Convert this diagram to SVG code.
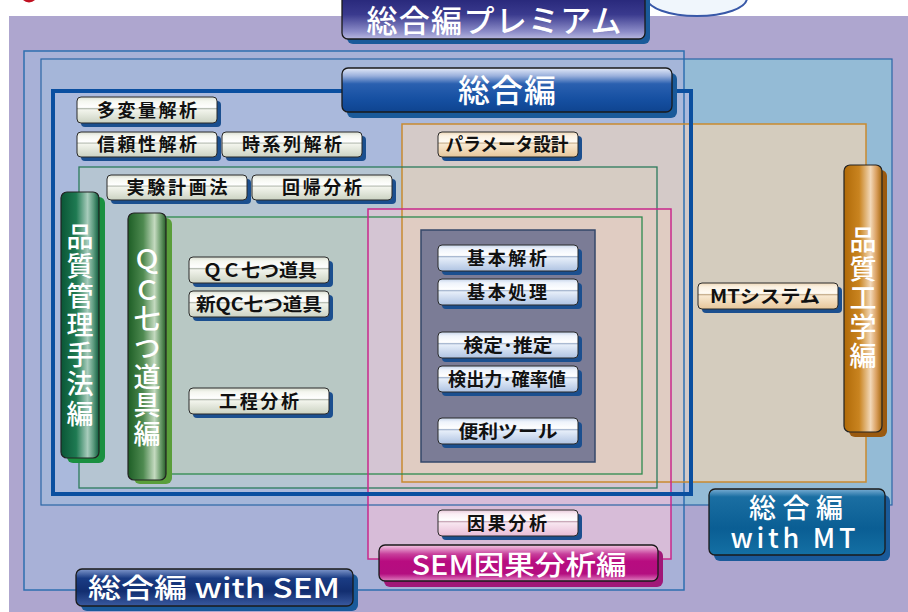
<svg xmlns="http://www.w3.org/2000/svg" width="908" height="612" viewBox="0 0 908 612">
<defs>
<style>
.sh{fill:#1B4F8F}
.btn{stroke:#2A2A2A;stroke-width:1}
.lbl{font-family:"Noto Sans CJK JP","Noto Sans",sans-serif;font-weight:700;font-size:18px;fill:#111;text-anchor:middle}
.ttl{font-family:"Noto Sans CJK JP","Noto Sans",sans-serif;font-weight:500;fill:#fff;text-anchor:middle}
.vt{font-family:"Noto Sans CJK JP","Noto Sans",sans-serif;font-weight:500;font-size:27px;fill:#fff;writing-mode:vertical-rl;text-orientation:upright}
.bar{stroke:#222;stroke-width:1.2}
.ban{stroke:#1a1a1a;stroke-width:1.3}
.bsh{fill:#1A5A9A}
</style>
<linearGradient id="gG" x1="0" y1="0" x2="0" y2="1">
<stop offset="0" stop-color="#D8DDD0"/><stop offset="0.15" stop-color="#F4F6EF"/><stop offset="0.4" stop-color="#FFFFFF"/><stop offset="0.44" stop-color="#B8BEB4"/><stop offset="0.5" stop-color="#F2F4EC"/><stop offset="1" stop-color="#CBD2C2"/>
</linearGradient>
<linearGradient id="gB" x1="0" y1="0" x2="0" y2="1">
<stop offset="0" stop-color="#C6D4EA"/><stop offset="0.15" stop-color="#EEF3FB"/><stop offset="0.4" stop-color="#FFFFFF"/><stop offset="0.44" stop-color="#A8B8D0"/><stop offset="0.5" stop-color="#E6EEF9"/><stop offset="1" stop-color="#AFC3E2"/>
</linearGradient>
<linearGradient id="gY" x1="0" y1="0" x2="0" y2="1">
<stop offset="0" stop-color="#EED8B8"/><stop offset="0.15" stop-color="#FBF1E2"/><stop offset="0.4" stop-color="#FFFBF4"/><stop offset="0.44" stop-color="#C8B090"/><stop offset="0.5" stop-color="#F8E8D0"/><stop offset="1" stop-color="#E6C69A"/>
</linearGradient>
<linearGradient id="gP" x1="0" y1="0" x2="0" y2="1">
<stop offset="0" stop-color="#E8C8DA"/><stop offset="0.15" stop-color="#FAEEF4"/><stop offset="0.4" stop-color="#FFFFFF"/><stop offset="0.44" stop-color="#C8A8B8"/><stop offset="0.5" stop-color="#F8E6F0"/><stop offset="1" stop-color="#E8BCD6"/>
</linearGradient>
<linearGradient id="gPrem" x1="0" y1="0" x2="0" y2="1">
<stop offset="0" stop-color="#1E1E70"/><stop offset="0.5" stop-color="#3A3A8E"/><stop offset="0.85" stop-color="#8C8CC8"/><stop offset="1" stop-color="#B8B8E0"/>
</linearGradient>
<linearGradient id="gSogo" x1="0" y1="0" x2="0" y2="1">
<stop offset="0" stop-color="#E4EAF8"/><stop offset="0.18" stop-color="#9AB0DC"/><stop offset="0.36" stop-color="#2A60B0"/><stop offset="0.7" stop-color="#1650A2"/><stop offset="1" stop-color="#0E4490"/>
</linearGradient>
<linearGradient id="gMT" x1="0" y1="0" x2="0" y2="1">
<stop offset="0" stop-color="#7AAED4"/><stop offset="0.12" stop-color="#1A6EA2"/><stop offset="0.6" stop-color="#0A5E94"/><stop offset="1" stop-color="#1470A4"/>
</linearGradient>
<linearGradient id="gMag" x1="0" y1="0" x2="0" y2="1">
<stop offset="0" stop-color="#F4CCE6"/><stop offset="0.25" stop-color="#C8409C"/><stop offset="0.45" stop-color="#B80C80"/><stop offset="0.8" stop-color="#B40E80"/><stop offset="1" stop-color="#E080C0"/>
</linearGradient>
<linearGradient id="gSem" x1="0" y1="0" x2="0" y2="1">
<stop offset="0" stop-color="#8098CC"/><stop offset="0.25" stop-color="#1A3C84"/><stop offset="0.6" stop-color="#122E70"/><stop offset="1" stop-color="#3A5AA0"/>
</linearGradient>
<linearGradient id="gQM" x1="0" y1="0" x2="1" y2="0">
<stop offset="0" stop-color="#0A5636"/><stop offset="0.4" stop-color="#1E7A52"/><stop offset="0.7" stop-color="#A8CCBC"/><stop offset="0.85" stop-color="#5E9C80"/><stop offset="1" stop-color="#0E5C3C"/>
</linearGradient>
<linearGradient id="gQC" x1="0" y1="0" x2="1" y2="0">
<stop offset="0" stop-color="#1E5E26"/><stop offset="0.4" stop-color="#4E8A50"/><stop offset="0.7" stop-color="#C4DAC0"/><stop offset="0.85" stop-color="#70A070"/><stop offset="1" stop-color="#265E28"/>
</linearGradient>
<linearGradient id="gQE" x1="0" y1="0" x2="1" y2="0">
<stop offset="0" stop-color="#B06A08"/><stop offset="0.4" stop-color="#C98420"/><stop offset="0.7" stop-color="#F2D8B8"/><stop offset="0.85" stop-color="#DAA060"/><stop offset="1" stop-color="#A86A10"/>
</linearGradient>
</defs>

<rect x="0" y="0" width="908" height="612" fill="#FFFFFF"/>
<circle cx="29" cy="-6" r="8.5" fill="#C01020"/>

<g id="regions">
<rect x="9" y="16" width="899" height="596" fill="#AEA6CF"/>
<rect x="24" y="51" width="660" height="539" fill="#A8B1D7"/>
<rect x="41" y="59" width="851" height="446" fill="#94BBD6"/>
<rect x="41" y="59" width="643" height="446" fill="#A5B6D9"/>
<rect x="52" y="89" width="640" height="406" fill="#AAB9DC"/>
<rect x="402" y="124" width="464" height="358" fill="#D4CCBE"/>
<rect x="402" y="124" width="290" height="358" fill="#D4CAC8"/>
<rect x="79" y="167" width="578" height="321" fill="#B5C5D2"/>
<rect x="402" y="167" width="255" height="315" fill="#D6CCC3"/>
<rect x="150" y="217" width="492" height="257" fill="#B8C8C4"/>
<rect x="402" y="217" width="240" height="257" fill="#DECDC1"/>
<rect x="368" y="209" width="303" height="350" fill="#D7BCD8"/>
<rect x="368" y="209" width="303" height="286" fill="#D4C5D3"/>
<rect x="402" y="209" width="269" height="273" fill="#E0CCC2"/>
</g>

<g id="outlines" fill="none">
<rect x="24" y="51" width="660" height="539" stroke="#2E6FB0" stroke-width="1.5"/>
<rect x="41" y="59" width="851" height="446" stroke="#2A66A6" stroke-width="1.2"/>
<rect x="402" y="124" width="464" height="358" stroke="#C88A30" stroke-width="1.5"/>
<rect x="79" y="167" width="578" height="321" stroke="#2B7A5C" stroke-width="1.3"/>
<rect x="150" y="217" width="492" height="257" stroke="#2F8A4E" stroke-width="1.3"/>
<rect x="368" y="209" width="303" height="350" stroke="#C8288C" stroke-width="1.5"/>
<rect x="53" y="91" width="638" height="403" stroke="#0A4FA0" stroke-width="4"/>
</g>

<g id="basic-panel">
<rect x="421" y="230" width="174" height="232" fill="#7B7C96" stroke="#34476A" stroke-width="1.5"/>
</g>

<g id="connectors"></g>

<g id="badge">
<ellipse cx="697" cy="-2" rx="50" ry="18" fill="#F0F6FC" stroke="#3858A8" stroke-width="2"/>
</g>

<g id="premium">
<rect class="bsh" x="347" y="-6" width="303" height="50" rx="6"/>
<rect class="ban" x="342" y="-10" width="303" height="49" rx="6" fill="url(#gPrem)"/>
<text class="ttl" x="494" y="32" font-size="31" textLength="255">総合編プレミアム</text>
</g>

<g id="sogo">
<rect class="bsh" x="347" y="73" width="330" height="45" rx="6"/>
<rect class="ban" x="342" y="68" width="330" height="44" rx="6" fill="url(#gSogo)"/>
<text class="ttl" x="507" y="102" font-size="32" textLength="98">総合編</text>
</g>

<g id="with-mt">
<rect class="bsh" x="714" y="495" width="176" height="66" rx="6"/>
<rect class="ban" x="709" y="489" width="176" height="66" rx="6" fill="url(#gMT)"/>
<text class="ttl" font-size="27"><tspan x="796" y="518" textLength="94">総合編</tspan><tspan x="793" y="548" textLength="125">with MT</tspan></text>
</g>

<g id="sem-causal">
<rect class="bsh" x="384" y="550" width="279" height="37" rx="6" style="fill:#A01878"/>
<rect class="ban" x="379" y="545" width="279" height="36" rx="6" fill="url(#gMag)"/>
<text class="ttl" x="519" y="575" font-size="27" textLength="215" lengthAdjust="spacingAndGlyphs">SEM因果分析編</text>
</g>

<g id="with-sem">
<rect class="bsh" x="81" y="574" width="277" height="37" rx="6"/>
<rect class="ban" x="76" y="569" width="277" height="37" rx="6" fill="url(#gSem)"/>
<text class="ttl" x="214" y="598" font-size="27" textLength="252" lengthAdjust="spacingAndGlyphs">総合編 with SEM</text>
</g>

<g id="bar-qm">
<rect x="67" y="197" width="38" height="266" rx="6" fill="#1A9040"/>
<rect class="bar" x="61" y="192" width="38" height="266" rx="6" fill="url(#gQM)"/>
<text class="vt" x="80" y="223" letter-spacing="2.5">品質管理手法編</text>
</g>

<g id="bar-qc">
<rect x="134" y="218" width="38" height="266" rx="6" fill="#5A9E3A"/>
<rect class="bar" x="128" y="213" width="38" height="267" rx="6" fill="url(#gQC)"/>
<text class="vt" x="147" y="248" letter-spacing="1.7">ＱＣ七つ道具編</text>
</g>

<g id="bar-qe">
<rect x="849" y="170" width="38" height="267" rx="6" fill="#9A5A10"/>
<rect class="bar" x="844" y="165" width="38" height="267" rx="6" fill="url(#gQE)"/>
<text class="vt" x="863" y="226" letter-spacing="2">品質工学編</text>
</g>

<g id="n-tahenryo"><rect class="sh" x="81" y="101" width="140" height="26" rx="4"/><rect class="btn" x="77" y="97" width="140" height="26" rx="4" fill="url(#gG)"/><text class="lbl" x="147" y="117" textLength="100">多変量解析</text></g>
<g id="n-shinrai"><rect class="sh" x="81" y="136" width="140" height="25" rx="4"/><rect class="btn" x="77" y="132" width="140" height="25" rx="4" fill="url(#gG)"/><text class="lbl" x="147" y="151" textLength="100">信頼性解析</text></g>
<g id="n-jikeiretsu"><rect class="sh" x="226" y="136" width="140" height="25" rx="4"/><rect class="btn" x="222" y="132" width="140" height="25" rx="4" fill="url(#gG)"/><text class="lbl" x="292" y="151" textLength="100">時系列解析</text></g>
<g id="n-parameter"><rect class="sh" x="442" y="136" width="140" height="25" rx="4"/><rect class="btn" x="438" y="132" width="140" height="25" rx="4" fill="url(#gY)"/><text class="lbl" x="507" y="151" textLength="123" lengthAdjust="spacingAndGlyphs">パラメータ設計</text></g>
<g id="n-jikken"><rect class="sh" x="111" y="179" width="140" height="25" rx="4"/><rect class="btn" x="107" y="175" width="140" height="25" rx="4" fill="url(#gG)"/><text class="lbl" x="177" y="194" textLength="101">実験計画法</text></g>
<g id="n-kaiki"><rect class="sh" x="256" y="179" width="140" height="25" rx="4"/><rect class="btn" x="252" y="175" width="140" height="25" rx="4" fill="url(#gG)"/><text class="lbl" x="322" y="194" textLength="80">回帰分析</text></g>
<g id="n-qc7"><rect class="sh" x="193" y="261" width="140" height="26" rx="4"/><rect class="btn" x="189" y="257" width="140" height="26" rx="4" fill="url(#gG)"/><text class="lbl" x="260" y="277" textLength="114" lengthAdjust="spacingAndGlyphs">ＱＣ七つ道具</text></g>
<g id="n-newqc7"><rect class="sh" x="193" y="295" width="140" height="26" rx="4"/><rect class="btn" x="189" y="291" width="140" height="26" rx="4" fill="url(#gG)"/><text class="lbl" x="259" y="311" textLength="126" lengthAdjust="spacingAndGlyphs">新QC七つ道具</text></g>
<g id="n-kotei"><rect class="sh" x="193" y="392" width="140" height="26" rx="4"/><rect class="btn" x="189" y="388" width="140" height="26" rx="4" fill="url(#gG)"/><text class="lbl" x="259" y="408" textLength="80">工程分析</text></g>
<g id="n-kihonkaiseki"><rect class="sh" x="442" y="249" width="140" height="26" rx="4"/><rect class="btn" x="438" y="245" width="140" height="26" rx="4" fill="url(#gB)"/><text class="lbl" x="507" y="265" textLength="80">基本解析</text></g>
<g id="n-kihonshori"><rect class="sh" x="442" y="283" width="140" height="26" rx="4"/><rect class="btn" x="438" y="279" width="140" height="26" rx="4" fill="url(#gB)"/><text class="lbl" x="507" y="299" textLength="80">基本処理</text></g>
<g id="n-kentei"><rect class="sh" x="442" y="336" width="140" height="26" rx="4"/><rect class="btn" x="438" y="332" width="140" height="26" rx="4" fill="url(#gB)"/><text class="lbl" x="508" y="352" textLength="89" lengthAdjust="spacingAndGlyphs">検定･推定</text></g>
<g id="n-kenshutsu"><rect class="sh" x="442" y="370" width="140" height="26" rx="4"/><rect class="btn" x="438" y="366" width="140" height="26" rx="4" fill="url(#gB)"/><text class="lbl" x="507" y="386" textLength="118" lengthAdjust="spacingAndGlyphs">検出力･確率値</text></g>
<g id="n-benri"><rect class="sh" x="442" y="422" width="140" height="26" rx="4"/><rect class="btn" x="438" y="418" width="140" height="26" rx="4" fill="url(#gB)"/><text class="lbl" x="508" y="438" textLength="99" lengthAdjust="spacingAndGlyphs">便利ツール</text></g>
<g id="n-mt"><rect class="sh" x="702" y="287" width="140" height="26" rx="4"/><rect class="btn" x="698" y="283" width="140" height="26" rx="4" fill="url(#gY)"/><text class="lbl" x="765" y="303" textLength="110" lengthAdjust="spacingAndGlyphs">MTシステム</text></g>
<g id="n-inga"><rect class="sh" x="442" y="514" width="140" height="26" rx="4"/><rect class="btn" x="438" y="510" width="140" height="26" rx="4" fill="url(#gP)"/><text class="lbl" x="507" y="530" textLength="80">因果分析</text></g>
</svg>
